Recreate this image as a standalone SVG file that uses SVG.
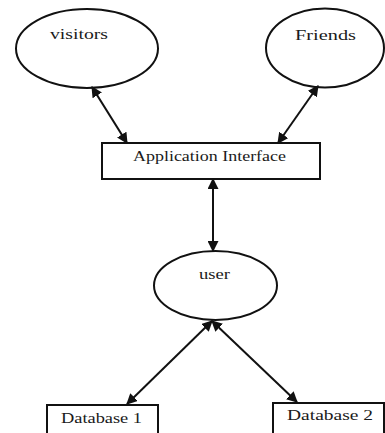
<svg xmlns="http://www.w3.org/2000/svg" width="385" height="433" viewBox="0 0 385 433">
<style>
.sh{fill:#fff;stroke:#111;stroke-width:2}
.t{font-family:'Liberation Serif','Times New Roman',serif;font-size:15px;fill:#1a1a1a}
.c{stroke:#111;stroke-width:2;fill:none;marker-start:url(#ah);marker-end:url(#ah)}
</style>
<defs>
<marker id="ah" viewBox="0 0 10 10" refX="9" refY="5" markerWidth="5.5" markerHeight="5.5" orient="auto-start-reverse" markerUnits="strokeWidth">
<path d="M0,0 L10,5 L0,10 z" fill="#111"/>
</marker>
</defs>
<rect width="385" height="433" fill="#fff"/>
<g id="visitors"><ellipse class="sh" cx="87" cy="48.5" rx="71" ry="39.5"/><text class="t" x="50" y="39" textLength="58" lengthAdjust="spacingAndGlyphs">visitors</text></g>
<g id="friends"><ellipse class="sh" cx="325" cy="48" rx="59" ry="39.5"/><text class="t" x="295" y="40" textLength="61" lengthAdjust="spacingAndGlyphs">Friends</text></g>
<g id="app"><rect class="sh" x="102" y="143" width="218" height="36"/><text class="t" x="133" y="161" textLength="153" lengthAdjust="spacingAndGlyphs">Application Interface</text></g>
<g id="user"><ellipse class="sh" cx="215.5" cy="285.5" rx="61.5" ry="34.5"/><text class="t" x="199" y="279" textLength="31" lengthAdjust="spacingAndGlyphs">user</text></g>
<g id="db1"><rect class="sh" x="47" y="405" width="111" height="32"/><text class="t" x="61" y="423" textLength="81" lengthAdjust="spacingAndGlyphs">Database 1</text></g>
<g id="db2"><rect class="sh" x="273" y="403" width="111" height="34"/><text class="t" x="287" y="420" textLength="86" lengthAdjust="spacingAndGlyphs">Database 2</text></g>
<g id="connectors">
<line class="c" x1="92" y1="87" x2="127" y2="143"/>
<line class="c" x1="318" y1="86" x2="278" y2="143"/>
<line class="c" x1="213" y1="179" x2="213" y2="251"/>
<line class="c" x1="212" y1="321" x2="127" y2="404"/>
<line class="c" x1="212" y1="321" x2="297" y2="402"/>
</g>
</svg>
